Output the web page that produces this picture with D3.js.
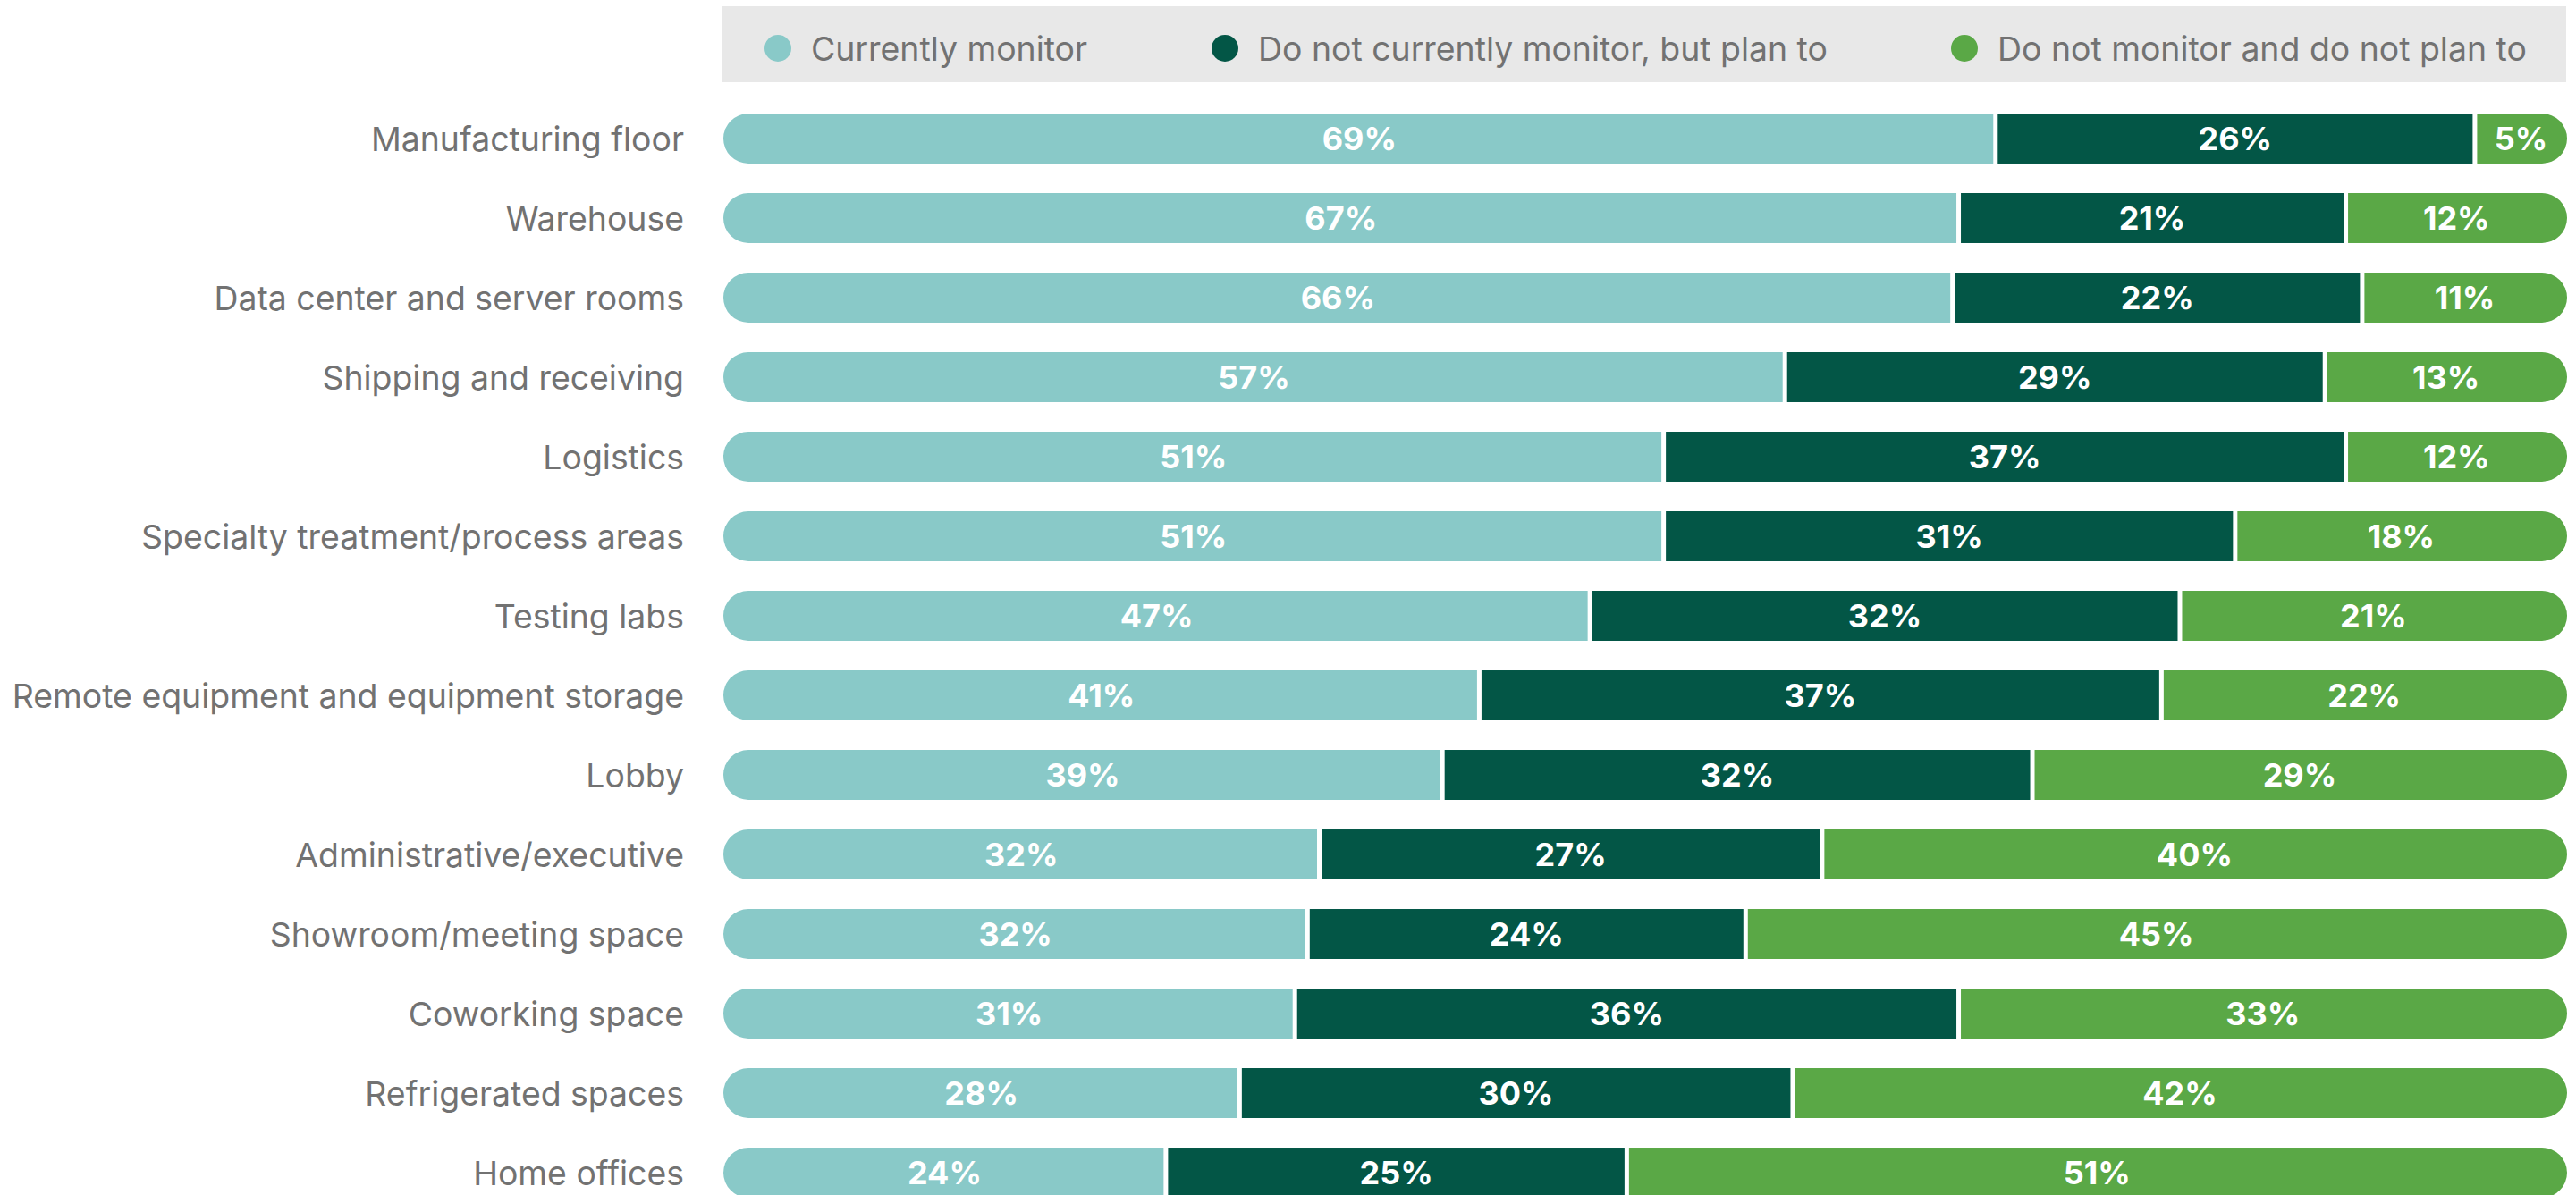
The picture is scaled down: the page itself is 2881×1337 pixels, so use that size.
<!DOCTYPE html>
<html>
<head>
<meta charset="utf-8">
<script src="https://cdn.jsdelivr.net/npm/d3@7/dist/d3.min.js"></script>
<style>
  body { margin: 0; background: #fff; }
  svg { display: block; font-family: Inter, "Noto Sans", sans-serif; }
</style>
</head>
<body>
<script>
// categories, top to bottom
const areas = [
  "Manufacturing floor", "Warehouse", "Data center and server rooms",
  "Shipping and receiving", "Logistics", "Specialty treatment/process areas",
  "Testing labs", "Remote equipment and equipment storage", "Lobby",
  "Administrative/executive", "Showroom/meeting space", "Coworking space",
  "Refrigerated spaces", "Home offices"
];

const seriesNames = [
  "Currently monitor",
  "Do not currently monitor, but plan to",
  "Do not monitor and do not plan to"
];

// values in %, one array per series
const currently = [69, 67, 66, 57, 51, 51, 47, 41, 39, 32, 32, 31, 28, 24];
const planTo    = [26, 21, 22, 29, 37, 31, 32, 37, 32, 27, 24, 36, 30, 25];
const noPlan    = [5, 12, 11, 13, 12, 18, 21, 22, 29, 40, 45, 33, 42, 51];

const colors = ["#89c9c8", "#035646", "#5aa846"];

const w = 2881;
const h = 1337;

const rows = areas.map((a, i) => {
  const vals = [currently[i], planTo[i], noPlan[i]];
  const total = d3.sum(vals);
  let cum = 0;
  const segs = vals.map((v, k) => {
    const s = { k: k, v: v, x0: cum / total, x1: (cum + v) / total };
    cum += v;
    return s;
  });
  return { area: a, segs: segs };
});

const svg = d3.select("body")
  .append("svg")
  .attr("width", w)
  .attr("height", h);

const x = d3.scaleLinear().domain([0, 1]).range([809, 2871]);
const y = d3.scaleBand()
  .domain(areas)
  .range([127, 1340])
  .paddingInner(0.371)
  .paddingOuter(0);

const bh = y.bandwidth();
const gap = 2.5;

// legend
const legend = svg.append("g");
legend.append("rect")
  .attr("x", 807)
  .attr("y", 7)
  .attr("width", 2063)
  .attr("height", 85)
  .attr("fill", "#e8e8e8");

const legendX = [870, 1370, 2197];
const items = legend.selectAll("g.item")
  .data(seriesNames)
  .enter()
  .append("g")
  .attr("class", "item")
  .attr("transform", (d, i) => `translate(${legendX[i]},54)`);
items.append("circle")
  .attr("r", 15)
  .attr("fill", (d, i) => colors[i]);
items.append("text")
  .attr("x", 37)
  .attr("y", 14)
  .attr("font-size", 37.4)
  .attr("fill", "#727272")
  .text(d => d);

// clip paths for rounded bar ends
const defs = svg.append("defs");
defs.selectAll("clipPath")
  .data(rows)
  .enter()
  .append("clipPath")
  .attr("id", (d, i) => "clip" + i)
  .append("rect")
  .attr("x", x(0))
  .attr("y", d => y(d.area))
  .attr("width", x(1) - x(0))
  .attr("height", bh)
  .attr("rx", bh / 2);

// category labels
svg.append("g")
  .selectAll("text")
  .data(areas)
  .enter()
  .append("text")
  .attr("x", 765)
  .attr("y", d => y(d) + bh / 2 + 14)
  .attr("text-anchor", "end")
  .attr("font-size", 37.4)
  .attr("fill", "#727272")
  .text(d => d);

// bars
const bars = svg.append("g")
  .selectAll("g")
  .data(rows)
  .enter()
  .append("g")
  .attr("clip-path", (d, i) => `url(#clip${i})`);

bars.selectAll("rect")
  .data(d => d.segs.map(s => Object.assign({ area: d.area }, s)))
  .enter()
  .append("rect")
  .attr("x", d => x(d.x0) + (d.k > 0 ? gap : 0))
  .attr("y", d => y(d.area))
  .attr("width", d => x(d.x1) - x(d.x0) - (d.k > 0 ? gap : 0) - (d.k < 2 ? gap : 0))
  .attr("height", bh)
  .attr("fill", d => colors[d.k]);

bars.selectAll("text")
  .data(d => d.segs.map(s => Object.assign({ area: d.area }, s)))
  .enter()
  .append("text")
  .attr("x", d => (x(d.x0) + x(d.x1)) / 2)
  .attr("y", d => y(d.area) + bh / 2 + 13)
  .attr("text-anchor", "middle")
  .attr("font-size", 36)
  .attr("font-weight", 700)
  .attr("fill", "#fff")
  .text(d => d.v + "%");
</script>
</body>
</html>
